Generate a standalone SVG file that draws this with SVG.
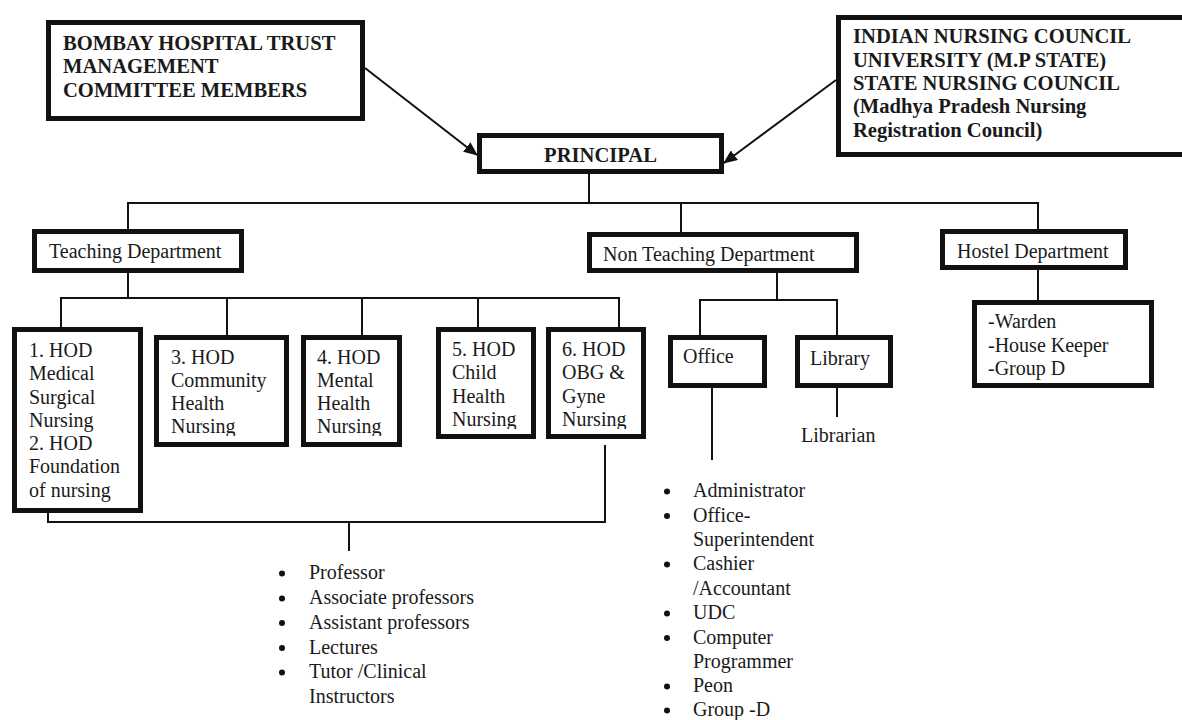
<svg xmlns="http://www.w3.org/2000/svg" width="1182" height="720" viewBox="0 0 1182 720">
<style>
.box{fill:#fff;stroke:#111;stroke-width:5}
.t{font-family:"Liberation Serif","Times New Roman",serif;font-size:20px;fill:#1a1a1a}
.b{font-family:"Liberation Serif","Times New Roman",serif;font-size:20.6px;font-weight:bold;fill:#1a1a1a}
.ln{stroke:#111;stroke-width:2;fill:none}
.dot{fill:#111}
</style>
<defs>
<marker id="ah" markerWidth="14" markerHeight="12" refX="13" refY="6" orient="auto" markerUnits="userSpaceOnUse">
<path d="M0,0 L14,6 L0,12 Z" fill="#111"/>
</marker>
<clipPath id="c34" clipPathUnits="userSpaceOnUse"><rect x="0" y="330" width="420" height="106"/></clipPath>
<clipPath id="c56" clipPathUnits="userSpaceOnUse"><rect x="430" y="320" width="230" height="109"/></clipPath>
</defs>
<rect width="1182" height="720" fill="#fff"/>

<g id="connectors">
<line class="ln" x1="365" y1="68" x2="477" y2="155" marker-end="url(#ah)"/>
<line class="ln" x1="836" y1="80" x2="724" y2="163" marker-end="url(#ah)"/>
<line class="ln" x1="589" y1="174" x2="589" y2="203"/>
<line class="ln" x1="127" y1="203" x2="1039" y2="203"/>
<line class="ln" x1="128" y1="203" x2="128" y2="230"/>
<line class="ln" x1="681" y1="203" x2="681" y2="233"/>
<line class="ln" x1="1038" y1="203" x2="1038" y2="230"/>
<line class="ln" x1="128" y1="272" x2="128" y2="298"/>
<line class="ln" x1="60" y1="298" x2="620" y2="298"/>
<line class="ln" x1="61" y1="298" x2="61" y2="328"/>
<line class="ln" x1="227" y1="298" x2="227" y2="336"/>
<line class="ln" x1="362" y1="298" x2="362" y2="336"/>
<line class="ln" x1="478" y1="298" x2="478" y2="328"/>
<line class="ln" x1="619" y1="298" x2="619" y2="328"/>
<line class="ln" x1="605" y1="445" x2="605" y2="523"/>
<line class="ln" x1="48" y1="512" x2="48" y2="522"/>
<line class="ln" x1="47" y1="522" x2="606" y2="522"/>
<line class="ln" x1="349" y1="522" x2="349" y2="551"/>
<line class="ln" x1="777" y1="272" x2="777" y2="300"/>
<line class="ln" x1="699" y1="300" x2="838" y2="300"/>
<line class="ln" x1="700" y1="300" x2="700" y2="336"/>
<line class="ln" x1="837" y1="300" x2="837" y2="336"/>
<line class="ln" x1="712" y1="387" x2="712" y2="460"/>
<line class="ln" x1="837" y1="387" x2="837" y2="417"/>
<line class="ln" x1="1038" y1="269" x2="1038" y2="301"/>
</g>

<g id="bombay">
<rect class="box" x="48.5" y="22.5" width="314" height="96"/>
<text class="b" x="63" y="50">BOMBAY HOSPITAL TRUST</text>
<text class="b" x="63" y="73">MANAGEMENT</text>
<text class="b" x="63" y="97">COMMITTEE MEMBERS</text>
</g>

<g id="council">
<rect class="box" x="838.5" y="17.5" width="360" height="137"/>
<text class="b" x="853" y="43">INDIAN NURSING COUNCIL</text>
<text class="b" x="853" y="67">UNIVERSITY (M.P STATE)</text>
<text class="b" x="853" y="90">STATE NURSING COUNCIL</text>
<text class="b" x="853" y="113">(Madhya Pradesh Nursing</text>
<text class="b" x="853" y="137">Registration Council)</text>
</g>

<g id="principal">
<rect class="box" x="479.5" y="135.5" width="242" height="36"/>
<text class="b" x="600.5" y="162" text-anchor="middle">PRINCIPAL</text>
</g>

<g id="teaching">
<rect class="box" x="34.5" y="231.5" width="207" height="39"/>
<text class="t" x="49" y="258">Teaching Department</text>
</g>

<g id="nonteaching">
<rect class="box" x="589.5" y="234.5" width="267" height="36"/>
<text class="t" x="603" y="261">Non Teaching Department</text>
</g>

<g id="hostel">
<rect class="box" x="942.5" y="231.5" width="183" height="36"/>
<text class="t" x="957" y="258">Hostel Department</text>
</g>

<g id="hod12">
<rect class="box" x="14.5" y="329.5" width="126" height="181"/>
<text class="t" x="29" y="357">1. HOD</text>
<text class="t" x="29" y="380">Medical</text>
<text class="t" x="29" y="404">Surgical</text>
<text class="t" x="29" y="427">Nursing</text>
<text class="t" x="29" y="450">2. HOD</text>
<text class="t" x="29" y="473">Foundation</text>
<text class="t" x="29" y="497">of nursing</text>
</g>

<g id="hod3">
<rect class="box" x="156.5" y="337.5" width="130" height="107"/>
<g clip-path="url(#c34)">
<text class="t" x="171" y="364">3. HOD</text>
<text class="t" x="171" y="387">Community</text>
<text class="t" x="171" y="410">Health</text>
<text class="t" x="171" y="433">Nursing</text>
</g>
</g>

<g id="hod4">
<rect class="box" x="303.5" y="337.5" width="96" height="107"/>
<g clip-path="url(#c34)">
<text class="t" x="317" y="364">4. HOD</text>
<text class="t" x="317" y="387">Mental</text>
<text class="t" x="317" y="410">Health</text>
<text class="t" x="317" y="433">Nursing</text>
</g>
</g>

<g id="hod5">
<rect class="box" x="438.5" y="329.5" width="95" height="107"/>
<g clip-path="url(#c56)">
<text class="t" x="452" y="356">5. HOD</text>
<text class="t" x="452" y="379">Child</text>
<text class="t" x="452" y="403">Health</text>
<text class="t" x="452" y="426">Nursing</text>
</g>
</g>

<g id="hod6">
<rect class="box" x="548.5" y="329.5" width="95" height="107"/>
<g clip-path="url(#c56)">
<text class="t" x="562" y="356">6. HOD</text>
<text class="t" x="562" y="379">OBG &amp;</text>
<text class="t" x="562" y="403">Gyne</text>
<text class="t" x="562" y="426">Nursing</text>
</g>
</g>

<g id="office">
<rect class="box" x="670.5" y="337.5" width="94" height="48"/>
<text class="t" x="683" y="363">Office</text>
</g>

<g id="library">
<rect class="box" x="797.5" y="337.5" width="93" height="48"/>
<text class="t" x="810" y="365">Library</text>
</g>

<g id="librarian">
<text class="t" x="801" y="442">Librarian</text>
</g>

<g id="hostelstaff">
<rect class="box" x="974.5" y="302.5" width="177" height="83"/>
<text class="t" x="988" y="328">-Warden</text>
<text class="t" x="988" y="352">-House Keeper</text>
<text class="t" x="988" y="375">-Group D</text>
</g>

<g id="teachingstaff">
<circle class="dot" cx="282" cy="573.5" r="3"/><text class="t" x="309" y="579">Professor</text>
<circle class="dot" cx="282" cy="598.5" r="3"/><text class="t" x="309" y="604">Associate professors</text>
<circle class="dot" cx="282" cy="623" r="3"/><text class="t" x="309" y="628.5">Assistant professors</text>
<circle class="dot" cx="282" cy="648" r="3"/><text class="t" x="309" y="653.5">Lectures</text>
<circle class="dot" cx="282" cy="672.5" r="3"/><text class="t" x="309" y="678">Tutor /Clinical</text>
<text class="t" x="309" y="703">Instructors</text>
</g>

<g id="officestaff">
<circle class="dot" cx="667" cy="491.5" r="3"/><text class="t" x="693" y="497">Administrator</text>
<circle class="dot" cx="667" cy="516" r="3"/><text class="t" x="693" y="521.5">Office-</text>
<text class="t" x="693" y="546">Superintendent</text>
<circle class="dot" cx="667" cy="564.5" r="3"/><text class="t" x="693" y="570">Cashier</text>
<text class="t" x="693" y="594.5">/Accountant</text>
<circle class="dot" cx="667" cy="613.5" r="3"/><text class="t" x="693" y="619">UDC</text>
<circle class="dot" cx="667" cy="638" r="3"/><text class="t" x="693" y="643.5">Computer</text>
<text class="t" x="693" y="668">Programmer</text>
<circle class="dot" cx="667" cy="686.5" r="3"/><text class="t" x="693" y="692">Peon</text>
<circle class="dot" cx="667" cy="710.5" r="3"/><text class="t" x="693" y="715.5">Group -D</text>
</g>
</svg>
